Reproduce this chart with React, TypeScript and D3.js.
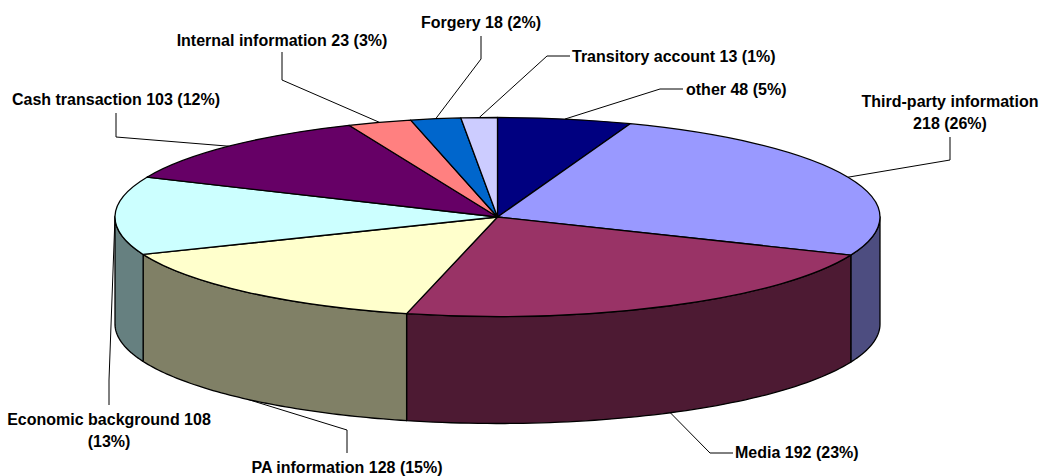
import * as d3 from 'd3';

// values clockwise from 12 o'clock
const categories = ['other', 'Third-party information', 'Media', 'PA information', 'Economic background', 'Cash transaction', 'Internal information', 'Forgery', 'Transitory account'];
const values = [48, 218, 192, 128, 108, 103, 23, 18, 13];
const percents = [5, 26, 23, 15, 13, 12, 3, 2, 1];
const topColors = ['#000080', '#9999ff', '#993366', '#ffffcc', '#ccffff', '#660066', '#ff8080', '#0066cc', '#ccccff'];
const wallColors = ['#000040', '#4d4d80', '#4d1a33', '#808066', '#668080', '#330033', '#804040', '#003366', '#666680'];

// label placement: leader elbows [x, y], leader ends [x, y], text anchor, text lines position
const elbows = [[660, 89], [950, 160], [710, 453], [347, 430], [109, 380], [116, 137], [282, 80], [481, 59], [547, 56]];
const leaderEnds = [[683, 89], [950, 137], [733, 453], [347, 453], [109, 405], [116, 113], [282, 52], [481, 36], [570, 56]];
const labelPos = [[686, 95], [950, 107], [735, 458], [347, 473], [109, 425], [116, 105], [282, 46], [481, 28], [572, 62]];
const labelAnchors = ['start', 'middle', 'start', 'middle', 'middle', 'middle', 'middle', 'middle', 'start'];
// the two labels that wrap onto a second line
const wrapped: Record<number, string[]> = {
  1: ['Third-party information', '218 (26%)'],
  4: ['Economic background 108', '(13%)'],
};

const width = 1042;
const height = 476;
const cx = 497.5;
const cy = 217;
const rx = 382.5;
const ry = 99.5;
const depth = 107;

const rim = (a: number, dy = 0): [number, number] => [cx + rx * Math.sin(a), cy - ry * Math.cos(a) + dy];

const App = () => {
  const slices = d3.pie<number>().sort(null)(values);
  const arc = d3.arc<d3.PieArcDatum<number>>().innerRadius(0).outerRadius(rx);
  const line = d3.line();

  const wallPath = (s: d3.PieArcDatum<number>) => {
    const a0 = Math.max(s.startAngle, Math.PI / 2);
    const a1 = Math.min(s.endAngle, (3 * Math.PI) / 2);
    if (a1 <= a0) return null;
    const steps = d3.range(0, 61).map(i => a0 + ((a1 - a0) * i) / 60);
    const pts = [...steps.map(a => rim(a)), ...steps.slice().reverse().map(a => rim(a, depth))];
    return line(pts) + 'Z';
  };

  const leader = (s: d3.PieArcDatum<number>, i: number) => {
    const mid = (s.startAngle + s.endAngle) / 2;
    const front = mid > Math.PI / 2 && mid < (3 * Math.PI) / 2;
    return line([rim(mid, front ? depth : 0), elbows[i] as [number, number], leaderEnds[i] as [number, number]]);
  };

  return (
    <svg width={width} height={height} style={{ position: 'absolute', left: 0, top: 0, background: '#fff' }}>
      {slices.map((s, i) => (
        <path key={i} d={leader(s, i) ?? ''} fill="none" stroke="#000" strokeWidth={1} />
      ))}
      {slices.map((s, i) => {
        const d = wallPath(s);
        return d ? <path key={i} d={d} fill={wallColors[i]} stroke="#000" strokeWidth={1.3} strokeLinejoin="round" /> : null;
      })}
      <g transform={`translate(${cx},${cy}) scale(1,${ry / rx})`}>
        {slices.map((s, i) => (
          <path key={i} d={arc(s) ?? ''} fill={topColors[i]} stroke="#000" strokeWidth={1.3} strokeLinejoin="round" style={{ vectorEffect: 'non-scaling-stroke' }} />
        ))}
      </g>
      <g fontFamily="'Liberation Sans', Arial, sans-serif" fontWeight="bold" fontSize={16} fill="#000">
        {categories.map((c, i) => {
          const lines = wrapped[i] ?? [`${c} ${values[i]} (${percents[i]}%)`];
          return (
            <text key={c} x={labelPos[i][0]} y={labelPos[i][1]} textAnchor={labelAnchors[i]}>
              {lines.map((l, j) => (
                <tspan key={j} x={labelPos[i][0]} dy={j ? 21.5 : 0}>{l}</tspan>
              ))}
            </text>
          );
        })}
      </g>
    </svg>
  );
};

export default App;
